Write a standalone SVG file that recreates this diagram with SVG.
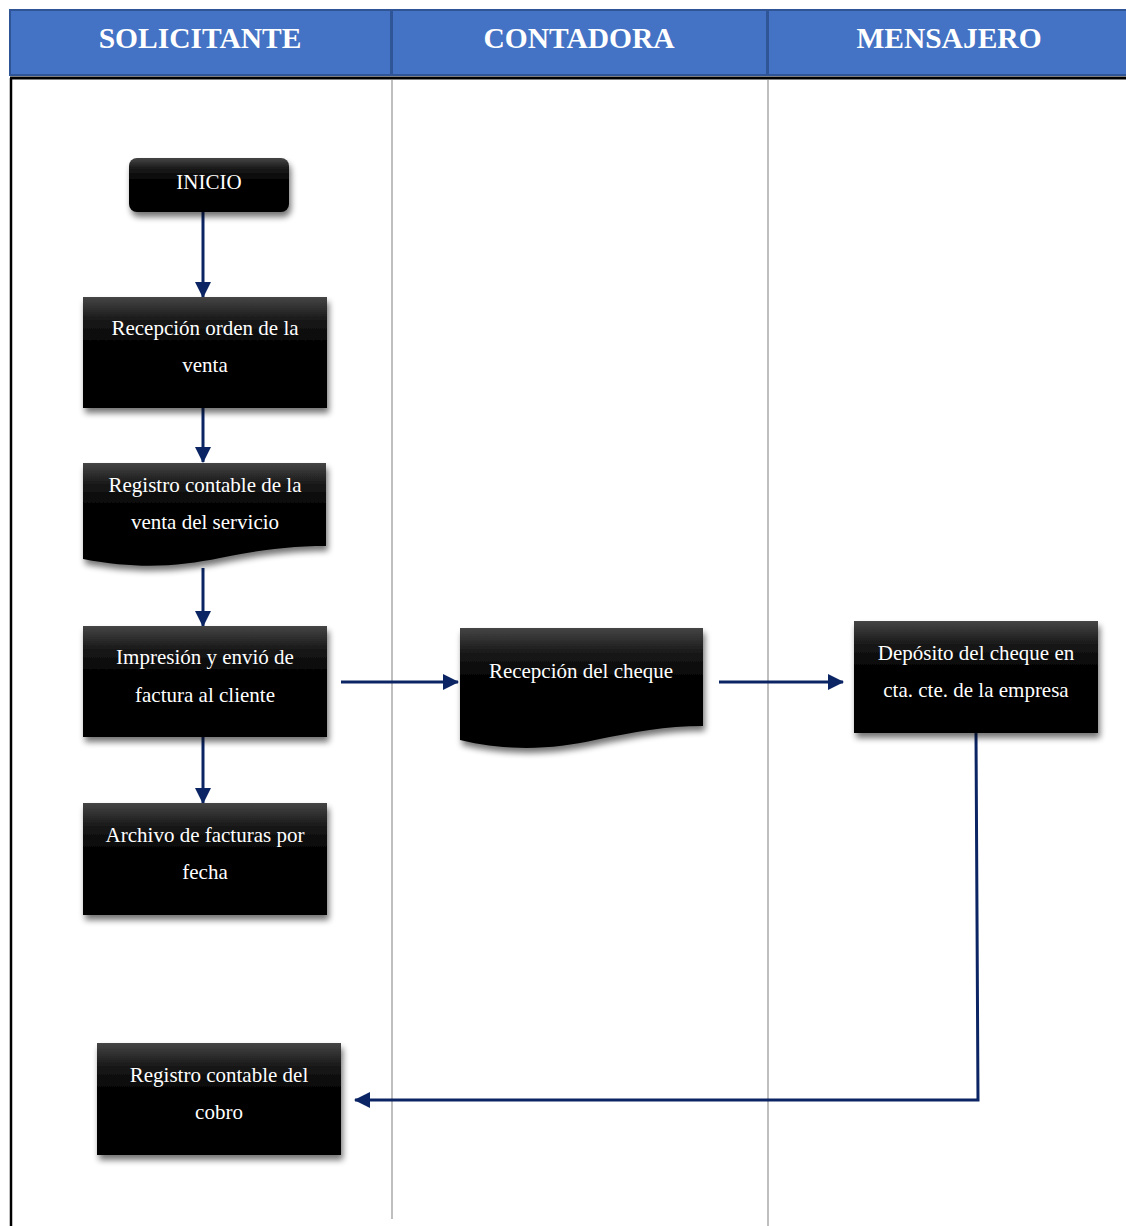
<svg xmlns="http://www.w3.org/2000/svg" width="1126" height="1226" viewBox="0 0 1126 1226">
<defs>
<linearGradient id="g" x1="0" y1="0" x2="0" y2="1">
<stop offset="0" stop-color="#454545"/>
<stop offset="0.2" stop-color="#1a1a1a"/>
<stop offset="0.45" stop-color="#000"/>
<stop offset="1" stop-color="#000"/>
</linearGradient>
<filter id="sh" x="-10%" y="-10%" width="125%" height="135%">
<feGaussianBlur in="SourceAlpha" stdDeviation="3"/>
<feOffset dx="2" dy="5" result="b"/>
<feComponentTransfer><feFuncA type="linear" slope="0.55"/></feComponentTransfer>
<feMerge><feMergeNode/><feMergeNode in="SourceGraphic"/></feMerge>
</filter>
<marker id="ah2" markerWidth="16" markerHeight="16" refX="15" refY="8" orient="auto" markerUnits="userSpaceOnUse" viewBox="0 0 16 16">
<path d="M0,0 L16,8 L0,16 Z" fill="#0b2463"/>
</marker>
<style>
.hd{fill:#4472c4;stroke:#2f5597;stroke-width:2}
.ht{font-family:"Liberation Serif",serif;font-weight:bold;font-size:29.5px;fill:#fff;text-anchor:middle}
.nd{fill:url(#g);filter:url(#sh)}
.t{font-family:"Liberation Serif",serif;font-size:21px;fill:#fff;text-anchor:middle}
.c{fill:none;stroke:#0b2463;stroke-width:3;marker-end:url(#ah2)}
.lane{stroke:#bfbfbf;stroke-width:2}
</style>
</defs>
<g id="header">
<rect class="hd" x="10" y="10" width="381" height="65"/>
<rect class="hd" x="392" y="10" width="375" height="65"/>
<rect class="hd" x="768" y="10" width="360" height="65"/>
<text class="ht" x="200" y="48">SOLICITANTE</text>
<text class="ht" x="579" y="48">CONTADORA</text>
<text class="ht" x="949" y="48">MENSAJERO</text>
</g>
<g id="frame">
<line x1="10" y1="78" x2="1126" y2="78" stroke="#000" stroke-width="3"/>
<line x1="11" y1="78" x2="11" y2="1226" stroke="#000" stroke-width="2.5"/>
<line class="lane" x1="392" y1="80" x2="392" y2="1219"/>
<line class="lane" x1="768" y1="80" x2="768" y2="1226"/>
</g>
<g id="connectors">
<path class="c" d="M203,212 V297"/>
<path class="c" d="M203,408 V462"/>
<path class="c" d="M203,568 V626"/>
<path class="c" d="M203,737 V803"/>
<path class="c" d="M341,682 H458"/>
<path class="c" d="M719,682 H843"/>
<path class="c" d="M976,733 L978,1100 H355"/>
</g>
<g id="n-inicio">
<rect class="nd" x="129" y="158" width="160" height="54" rx="8"/>
<text class="t" x="209" y="189">INICIO</text>
</g>
<g id="n-recepcion-orden">
<rect class="nd" x="83" y="297" width="244" height="111"/>
<text class="t" x="205" y="335">Recepción orden de la</text>
<text class="t" x="205" y="372">venta</text>
</g>
<g id="n-registro-venta">
<path class="nd" d="M83,463 H326 V546 C290,546 260,550 220,558 C180,566 140,570 83,559 Z"/>
<text class="t" x="205" y="492">Registro contable de la</text>
<text class="t" x="205" y="529">venta del servicio</text>
</g>
<g id="n-impresion">
<rect class="nd" x="83" y="626" width="244" height="111"/>
<text class="t" x="205" y="664">Impresión y envió de</text>
<text class="t" x="205" y="702">factura al cliente</text>
</g>
<g id="n-archivo">
<rect class="nd" x="83" y="803" width="244" height="112"/>
<text class="t" x="205" y="842">Archivo de facturas por</text>
<text class="t" x="205" y="879">fecha</text>
</g>
<g id="n-registro-cobro">
<rect class="nd" x="97" y="1043" width="244" height="112"/>
<text class="t" x="219" y="1082">Registro contable del</text>
<text class="t" x="219" y="1119">cobro</text>
</g>
<g id="n-recepcion-cheque">
<path class="nd" d="M460,628 H703 V726 C665,726 635,732 595,740 C555,749 510,752 460,740 Z"/>
<text class="t" x="581" y="678">Recepción del cheque</text>
</g>
<g id="n-deposito">
<rect class="nd" x="854" y="621" width="244" height="112"/>
<text class="t" x="976" y="660">Depósito del cheque en</text>
<text class="t" x="976" y="697">cta. cte. de la empresa</text>
</g>
</svg>
